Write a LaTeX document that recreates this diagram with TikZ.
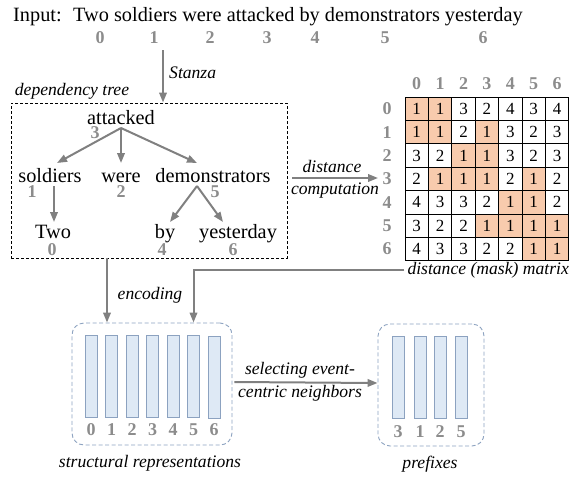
\documentclass[tikz,border=0pt]{standalone}
\usepackage{fontspec}
\setmainfont{Liberation Serif}
\usetikzlibrary{arrows.meta}
\definecolor{arrgray}{RGB}{128,128,128}
\definecolor{idxgray}{RGB}{140,140,140}
\definecolor{salmon}{RGB}{248,203,173}
\definecolor{barfill}{RGB}{222,233,245}
\definecolor{barline}{RGB}{140,162,192}
\begin{document}
\begin{tikzpicture}[x=1pt,y=-1pt,
  word/.style={font=\fontsize{20.3}{24}\selectfont, inner sep=0pt, anchor=base},
  lab/.style={font=\fontsize{17.6}{20}\selectfont\itshape, inner sep=0pt},
  idx/.style={font=\fontsize{18}{20}\selectfont\bfseries, text=idxgray, inner sep=0pt},
  arr/.style={draw=arrgray, line width=2pt, -{Triangle[length=10pt,width=7.5pt]}},
  cellbox/.style={draw=black, line width=0.9pt, minimum size=23.4pt, inner sep=0pt, font=\fontsize{17}{19}\selectfont},
  bar/.style={draw=barline, fill=barfill, line width=0.9pt, minimum width=12pt, minimum height=82pt, inner sep=0pt},
  grp/.style={draw=barline, dash pattern=on 4pt off 2.5pt, line width=0.9pt, rounded corners=12pt, inner sep=0pt},
  treeframe/.style={draw=black, dash pattern=on 3pt off 2pt, line width=0.9pt, inner sep=0pt}
]
\useasboundingbox (0,0) rectangle (583,479);

% input sentence
\node[word, anchor=base west] (inp) at (13,21) {Input:};
\node[word, anchor=base west] (sent) at (73,21) {Two soldiers were attacked by demonstrators yesterday};
\foreach \i/\x in {0/100,1/154,2/210,3/267,4/315,5/385,6/483}
  \node[idx] (t\i) at (\x,38) {\i};

% dependency tree
\node[treeframe, minimum width=276pt, minimum height=155pt] (treebox) at (149,180.5) {};
\node[lab] (deplab) at (72,91) {dependency tree};
\coordinate (stz) at (163,50);
\draw[arr] (stz) -- (treebox.north -| stz);
\node[lab, anchor=west] (stanza) at (169,73) {Stanza};

\node[word] (w3) at (121,124) {attacked};
\node[word] (w1) at (50,182) {soldiers};
\node[word] (w2) at (121,182) {were};
\node[word] (w5) at (213,182) {demonstrators};
\node[word] (w0) at (53,238) {Two};
\node[word] (w4) at (165,238) {by};
\node[word] (w6) at (238,238) {yesterday};
\node[idx] (n3) at (95,133) {3};
\node[idx] (n1) at (32,192) {1};
\node[idx] (n2) at (121,192) {2};
\node[idx] (n5) at (215,192) {5};
\node[idx] (n0) at (52,250) {0};
\node[idx] (n4) at (162,250) {4};
\node[idx] (n6) at (233,250) {6};

\coordinate (a3) at (121,128);
\coordinate (a1) at (57,163);
\coordinate (a2) at (121,163);
\coordinate (a5) at (197,163);
\coordinate (b1) at (54,186);
\coordinate (b0) at (54,222);
\coordinate (b5) at (197,186);
\coordinate (b4) at (170,222);
\coordinate (b6) at (223,222);
\draw[arr] (a3) -- (a1);
\draw[arr] (a3) -- (a2);
\draw[arr] (a3) -- (a5);
\draw[arr] (b1) -- (b0);
\draw[arr] (b5) -- (b4);
\draw[arr] (b5) -- (b6);

% distance computation
\coordinate (dstart) at (292,178);
\coordinate (dend) at (378,178);
\draw[arr] (dstart) -- (dend);
\node[lab] (dist1) at (332,166) {distance};
\node[lab] (dist2) at (335,191) {computation};

% matrix
\def\mvals{{1,1,3,2,4,3,4},{1,1,2,1,3,2,3},{3,2,1,1,3,2,3},{2,1,1,1,2,1,2},{4,3,3,2,1,1,2},{3,2,2,1,1,1,1},{4,3,3,2,2,1,1}}
\foreach \r [count=\rr from 0] in \mvals {
  \foreach \v [count=\cc from 0] in \r {
    \ifnum\v=1
      \node[cellbox, fill=salmon] (m-\rr-\cc) at ({405+23.4*(\cc+0.5)},{97+23.4*(\rr+0.5)}) {\v};
    \else
      \node[cellbox] (m-\rr-\cc) at ({405+23.4*(\cc+0.5)},{97+23.4*(\rr+0.5)}) {\v};
    \fi
  }
}
\foreach \i in {0,...,6} {
  \node[idx] (ch\i) at ({405+23.4*(\i+0.5)},84) {\i};
  \node[idx] (rh\i) at (387,{97+23.4*(\i+0.5)}) {\i};
}
\node[lab, anchor=east] (mlab) at (569,270) {distance (mask) matrix};

% structural representations
\node[grp, minimum width=160pt, minimum height=122pt] (sbox) at (152,384) {};
\foreach \i in {0,...,5} {
  \node[bar] (s\i) at ({91+20.5*\i},376) {};
}
\node[bar] (s6) at (214,377.5) {};
\foreach \i in {0,...,6} {
  \node[idx] (si\i) at ({91+20.5*\i},430) {\i};
}
\node[lab] (slab) at (150,463) {structural representations};

\coordinate (encx) at (107,0);
\draw[arr] (treebox.south -| encx) -- (sbox.north -| encx);
\node[lab] (enc) at (150,295) {encoding};
\draw[arr] ([xshift=-3pt]mlab.west) -| (sbox.north -| s5);

% prefixes
\node[grp, minimum width=106pt, minimum height=122pt] (pbox) at (431,385) {};
\foreach \i/\x/\t in {0/398/3,1/420/1,2/440/2,3/461/5} {
  \node[bar] (p\i) at (\x,377.5) {};
  \node[idx] (pi\i) at (\x,432) {\t};
}
\node[lab] (plab) at (430,464) {prefixes};

\draw[arr] ([xshift=2pt,yshift=2pt]sbox.east) -- ([yshift=2pt]pbox.west);
\node[lab] (sel1) at (300,370) {selecting event-};
\node[lab] (sel2) at (300,393) {centric neighbors};
\end{tikzpicture}
\end{document}
